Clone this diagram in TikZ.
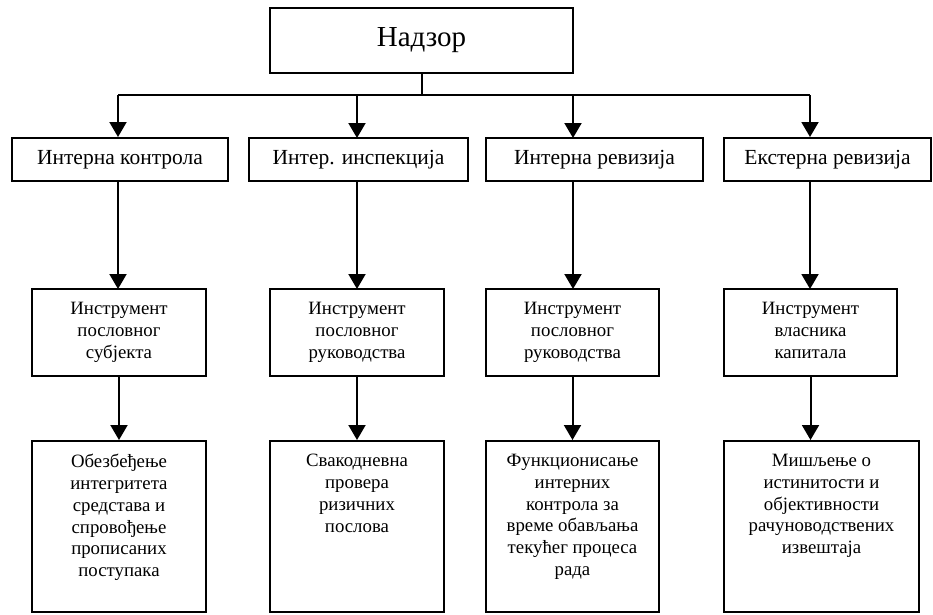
\documentclass[tikz,border=0pt]{standalone}
\usepackage{fontspec}
\setmainfont{Liberation Serif}
\usetikzlibrary{arrows.meta}
\begin{document}
\begin{tikzpicture}[x=1pt,y=-1pt,
  box/.style={draw,line width=2pt,inner sep=0pt},
  head/.style={font=\fontsize{21.5}{24}\selectfont,inner sep=0pt},
  body/.style={font=\fontsize{18.8}{21.8}\selectfont,align=center,inner sep=0pt,anchor=north},
  conn/.style={line width=2pt},
  arr/.style={conn,-{Triangle[width=17pt,length=15pt]}}]
\useasboundingbox (0,0) rectangle (933,614);

% top box
\node[box,minimum width=303pt,minimum height=65pt] (top) at (421.5,40.5) {};
\node[font=\fontsize{29}{33}\selectfont,inner sep=0pt] (toptxt) at (top.center) {Надзор};

% first level
\node[box,minimum width=216pt,minimum height=43pt] (a1) at (120,159.5) {};
\node[box,minimum width=219pt,minimum height=43pt] (a2) at (358.5,159.5) {};
\node[box,minimum width=217pt,minimum height=43pt] (a3) at (594.5,159.5) {};
\node[box,minimum width=207pt,minimum height=43pt] (a4) at (827.5,159.5) {};
\node[head] (t1) at (a1.center) {Интерна контрола};
\node[head] (t2) at (a2.center) {Интер. инспекција};
\node[head] (t3) at (a3.center) {Интерна ревизија};
\node[head] (t4) at (a4.center) {Екстерна ревизија};

% second level
\node[box,minimum width=174pt,minimum height=87pt] (b1) at (119,332.5) {};
\node[box,minimum width=174pt,minimum height=87pt] (b2) at (357,332.5) {};
\node[box,minimum width=173pt,minimum height=87pt] (b3) at (572.5,332.5) {};
\node[box,minimum width=173pt,minimum height=87pt] (b4) at (810.5,332.5) {};
\node[body] (u1) at ([yshift=-14pt]b1.north) {Инструмент\\пословног\\субјекта};
\node[body] (u2) at ([yshift=-14pt]b2.north) {Инструмент\\пословног\\руководства};
\node[body] (u3) at ([yshift=-14pt]b3.north) {Инструмент\\пословног\\руководства};
\node[body] (u4) at ([yshift=-14pt]b4.north) {Инструмент\\власника\\капитала};

% third level
\node[box,minimum width=174pt,minimum height=171pt] (c1) at (119,526.5) {};
\node[box,minimum width=174pt,minimum height=171pt] (c2) at (357,526.5) {};
\node[box,minimum width=173pt,minimum height=171pt] (c3) at (572.5,526.5) {};
\node[box,minimum width=195pt,minimum height=171pt] (c4) at (821.5,526.5) {};
\node[body] (v1) at ([yshift=-14pt]c1.north) {Обезбеђење\\интегритета\\средстава и\\спровођење\\прописаних\\поступака};
\node[body] (v2) at ([yshift=-14pt]c2.north) {Свакодневна\\провера\\ризичних\\послова};
\node[body] (v3) at ([yshift=-14pt]c3.north) {Функционисање\\интерних\\контрола за\\време обављања\\текућег процеса\\рада};
\node[body] (v4) at ([yshift=-14pt]c4.north) {Мишљење о\\истинитости и\\објективности\\рачуноводствених\\извештаја};

% distribution bus under the top box
\coordinate (bus) at (421.5,95);
\coordinate (busL) at (118,95);
\coordinate (busR) at (810,95);
\draw[conn] (top.south) -- (bus);
\draw[conn] (busL) -- (busR);
\draw[arr] (busL) -- (busL |- a1.north);
\draw[arr] (357,95) -- (357,138);
\draw[arr] (573,95) -- (573,138);
\draw[arr] (busR) -- (busR |- a4.north);

% vertical chains
\draw[arr] (118,181) -- (118,289);
\draw[arr] (357,181) -- (357,289);
\draw[arr] (573,181) -- (573,289);
\draw[arr] (810,181) -- (810,289);
\draw[arr] (b1.south) -- (c1.north -| b1.south);
\draw[arr] (b2.south) -- (c2.north -| b2.south);
\draw[arr] (b3.south) -- (c3.north -| b3.south);
\draw[arr] (b4.south) -- (c4.north -| b4.south);
\end{tikzpicture}
\end{document}
